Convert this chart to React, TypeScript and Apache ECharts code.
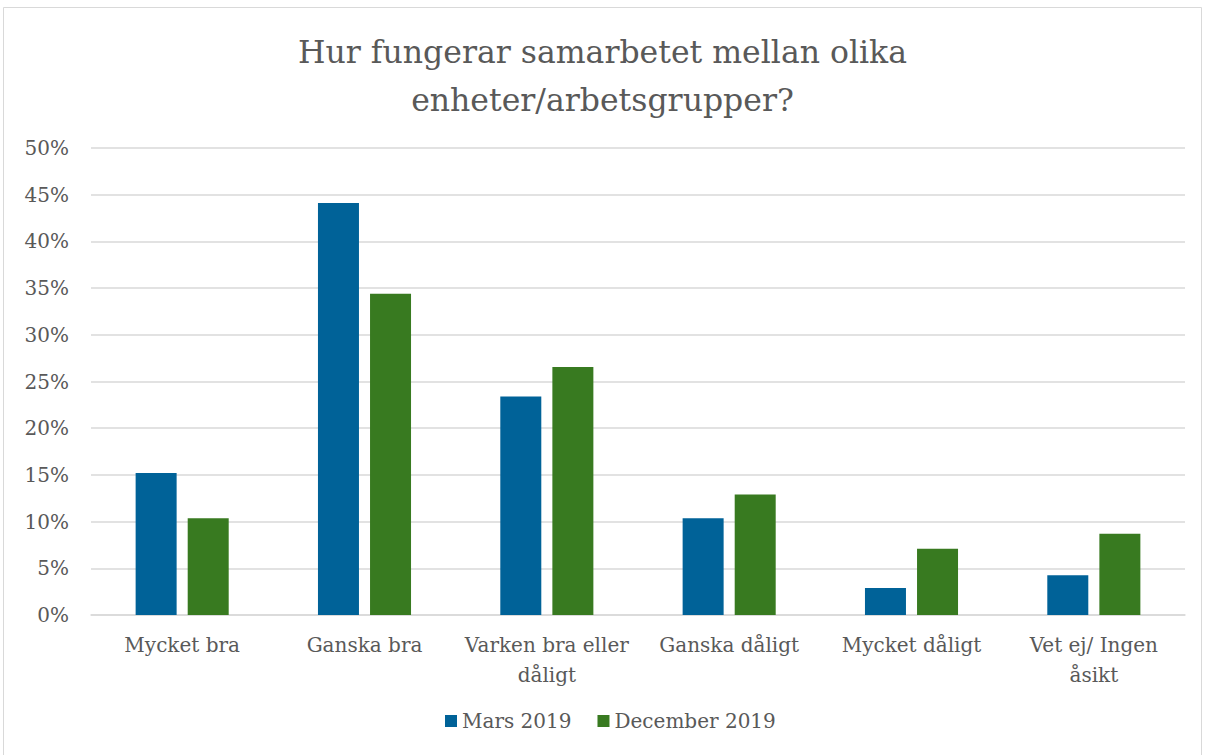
import React, { useEffect, useRef } from "react";
import * as echarts from "echarts";

const categories = [
  "Mycket bra",
  "Ganska bra",
  "Varken bra eller\ndåligt",
  "Ganska dåligt",
  "Mycket dåligt",
  "Vet ej/ Ingen\nåsikt",
];
const mars2019 = [15.2, 44.1, 23.4, 10.35, 2.9, 4.25];
const dec2019 = [10.35, 34.4, 26.55, 12.9, 7.1, 8.7];
const seriesNames = ["Mars 2019", "December 2019"];
const titleText = "Hur fungerar samarbetet mellan olika\nenheter/arbetsgrupper?";

const FONT = "'DejaVu Serif', 'Liberation Serif', serif";
const TEXT = "#595959";

export default function App() {
  const ref = useRef<HTMLDivElement>(null);
  useEffect(() => {
    if (!ref.current) return;
    const chart = echarts.init(ref.current, undefined, { renderer: "svg" });
    chart.setOption({
      animation: false,
      backgroundColor: "#ffffff",
      textStyle: { fontFamily: FONT },
      graphic: [
        {
          type: "rect",
          shape: { x: 3.5, y: 7.5, width: 1198, height: 760 },
          style: { fill: "none", stroke: "#d9d9d9", lineWidth: 1 },
          silent: true,
          z: -1,
        },
      ],
      title: {
        text: titleText,
        left: "center",
        top: 23,
        padding: [5, 5, 5, 17],
        textStyle: {
          fontFamily: FONT,
          fontSize: 31.5,
          fontWeight: "normal",
          color: TEXT,
          lineHeight: 48,
        },
      },
      legend: {
        data: seriesNames,
        bottom: 19,
        left: 440,
        itemWidth: 12,
        itemHeight: 12,
        itemGap: 26,
        icon: "rect",
        textStyle: { fontFamily: FONT, fontSize: 20, color: TEXT },
      },
      grid: { left: 91, right: 20, top: 148, bottom: 140, containLabel: false },
      xAxis: {
        type: "category",
        data: categories,
        axisLine: { lineStyle: { color: "#d9d9d9", width: 1.5 } },
        axisTick: { show: false },
        axisLabel: {
          fontFamily: FONT,
          fontSize: 20,
          color: TEXT,
          margin: 15,
          lineHeight: 30,
          interval: 0,
        },
      },
      yAxis: {
        type: "value",
        min: 0,
        max: 50,
        interval: 5,
        axisLine: { show: false },
        axisTick: { show: false },
        splitLine: { lineStyle: { color: "#d9d9d9", width: 1.5 } },
        axisLabel: {
          fontFamily: FONT,
          fontSize: 20,
          color: TEXT,
          margin: 22,
          formatter: (v: number) => `${v}%`,
        },
      },
      series: [
        {
          name: seriesNames[0],
          type: "bar",
          data: mars2019,
          barWidth: 41,
          barGap: "27%",
          itemStyle: { color: "#006298" },
        },
        {
          name: seriesNames[1],
          type: "bar",
          data: dec2019,
          barWidth: 41,
          itemStyle: { color: "#387A20" },
        },
      ],
    });
    return () => chart.dispose();
  }, []);
  return (
    <div
      ref={ref}
      style={{ position: "fixed", left: 0, top: 0, width: 1205, height: 755 }}
    />
  );
}
